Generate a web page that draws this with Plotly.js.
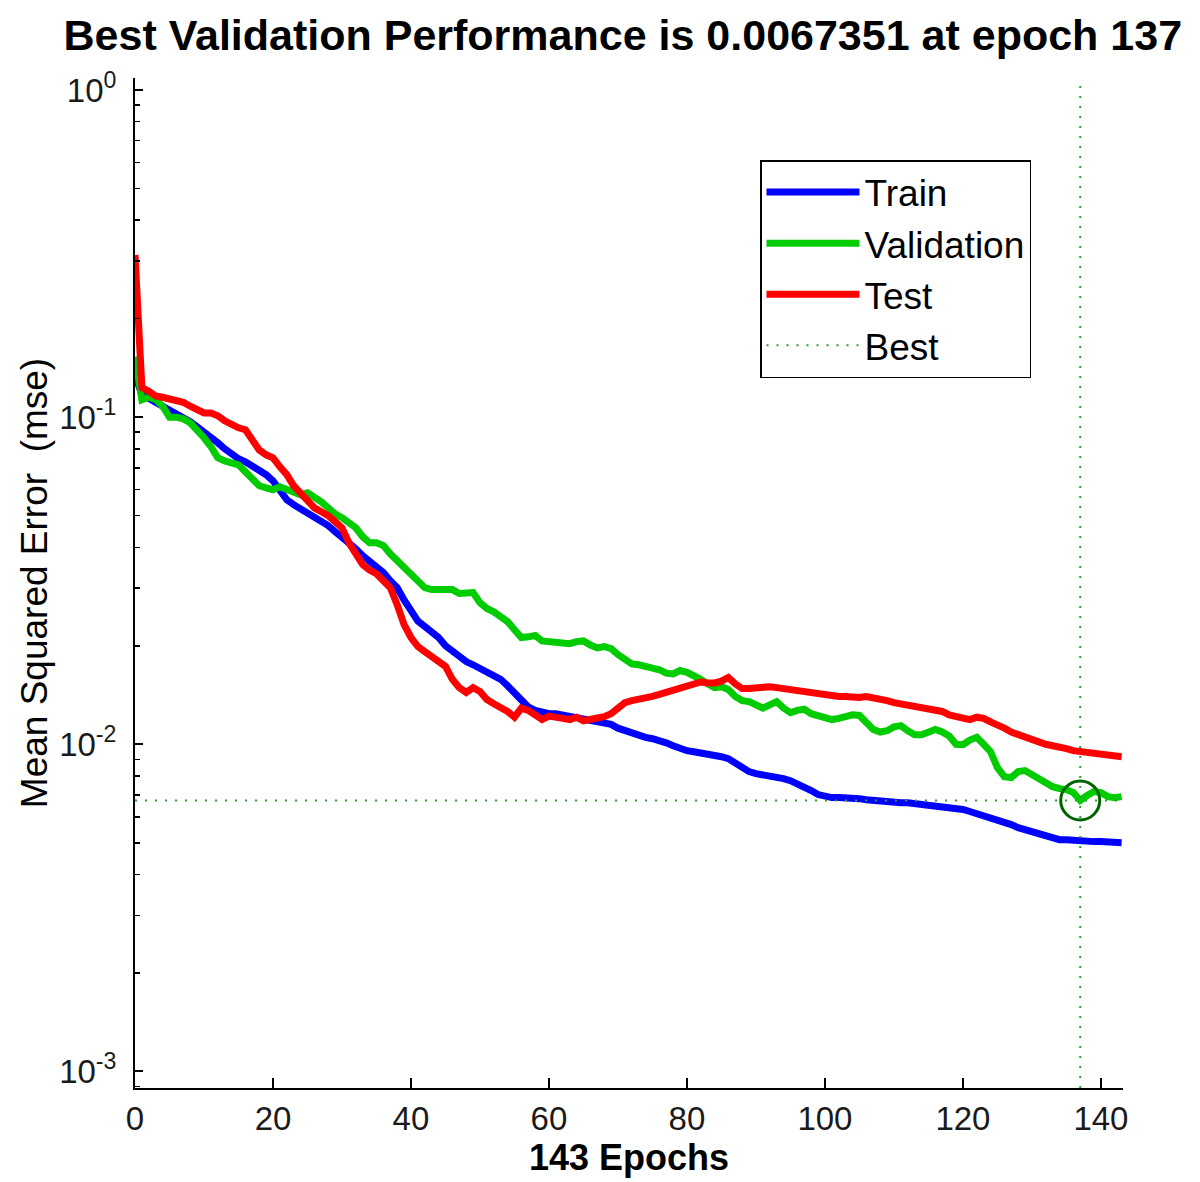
<!DOCTYPE html>
<html>
<head>
<meta charset="utf-8">
<script src="https://cdn.plot.ly/plotly-3.0.1.min.js"></script>
<style>
  html, body { margin: 0; padding: 0; background: #ffffff; }
  #chart { width: 1200px; height: 1182px; }
</style>
</head>
<body>
<div id="chart"></div>
<script>
// ---- Data ----
const train = [0.135,0.117,0.114,0.111,0.109,0.105,0.102,0.100,0.0968,0.0934,
0.0902,0.0871,0.0835,0.0800,0.0767,0.0746,0.0730,0.0710,0.0690,0.0667,
0.0639,0.0591,0.0559,0.0540,0.0525,0.0514,0.0500,0.0482,0.0466,0.0447,
0.0431,0.0416,0.0396,0.0377,0.0362,0.0349,0.0335,0.0316,0.0301,0.0276,
0.0254,0.0238,0.0229,0.0221,0.0212,0.0200,0.0192,0.0184,0.0179,0.0175,
0.0171,0.0166,0.0162,0.0158,0.0151,0.0143,0.0136,0.0130,0.0127,0.0125,
0.0124,0.0124,0.0123,0.0122,0.0120,0.0119,0.0118,0.0117,0.01165,0.0115,
0.0112,0.0110,0.0108,0.0106,0.0105,0.0104,0.0103,0.0101,0.00990,0.00970,
0.00956,0.00949,0.00943,0.00936,0.00923,0.00916,0.00904,0.00873,0.00842,0.00825,
0.00813,0.00808,0.00802,0.00796,0.00785,0.00774,0.00758,0.00742,0.00722,0.00702,
0.00692,0.00687,0.00687,0.00687,0.00682,0.00682,0.00677,0.00673,0.00673,0.00668,
0.00668,0.00663,0.00663,0.00659,0.00659,0.00654,0.00654,0.00650,0.00645,0.00636,
0.00632,0.00623,0.00614,0.00606,0.00597,0.00585,0.00577,0.00568,0.00556,0.00548,
0.00537,0.00529,0.00522,0.00515,0.00511,0.00511,0.00508,0.00508,0.00508,0.00504,
0.00504,0.00504,0.00500,0.00500];

const validation = [0.153,0.113,0.115,0.113,0.108,0.100,0.100,0.0988,0.0961,0.0915,
0.0865,0.0812,0.0751,0.0735,0.0725,0.0715,0.0681,0.0643,0.0617,0.0608,
0.0600,0.0613,0.0600,0.0587,0.0579,0.0587,0.0571,0.0551,0.0528,0.0506,
0.0493,0.0479,0.0459,0.0431,0.0413,0.0413,0.0405,0.0382,0.0364,0.0349,
0.0330,0.0314,0.0301,0.0297,0.0297,0.0295,0.0297,0.0289,0.0289,0.0291,
0.0271,0.0260,0.0254,0.0247,0.0237,0.0224,0.0212,0.0213,0.0215,0.0207,
0.0206,0.0207,0.0204,0.0203,0.0206,0.0207,0.0201,0.0197,0.0199,0.0196,
0.0188,0.0181,0.0176,0.0175,0.0174,0.0171,0.0169,0.0165,0.0164,0.0168,
0.0166,0.0163,0.0158,0.0153,0.0149,0.0150,0.0147,0.0140,0.0136,0.0135,
0.0132,0.0129,0.0132,0.0135,0.0129,0.0125,0.0127,0.0128,0.0124,0.0122,
0.0120,0.0119,0.0120,0.0122,0.0123,0.01225,0.0116,0.0111,0.0109,0.0110,
0.0113,0.0114,0.0110,0.0107,0.0107,0.0109,0.0111,0.0109,0.0106,0.0100,
0.00997,0.0103,0.0105,0.0100,0.00949,0.00848,0.00796,0.00791,0.00825,0.00831,
0.00808,0.00785,0.00764,0.00742,0.00732,0.00727,0.00712,0.0067351,0.00697,0.00717,
0.00712,0.00692,0.00687,0.00692];

const test = [0.313,0.123,0.120,0.116,0.115,0.114,0.112,0.111,0.108,0.105,
0.103,0.103,0.101,0.0974,0.0947,0.0928,0.0915,0.0852,0.0794,0.0767,
0.0751,0.0705,0.0667,0.0617,0.0583,0.0555,0.0528,0.0514,0.0500,0.0479,
0.0459,0.0413,0.0379,0.0354,0.0341,0.0332,0.0316,0.0301,0.0267,0.0232,
0.0212,0.0199,0.0192,0.0186,0.0180,0.0173,0.0158,0.0149,0.0144,0.0149,
0.0145,0.0137,0.0133,0.0130,0.0126,0.0121,0.0129,0.0127,0.0122,0.0119,
0.0122,0.01215,0.0120,0.0119,0.0121,0.0118,0.0119,0.0121,0.01215,0.0124,
0.0129,0.0134,0.0136,0.0137,0.0138,0.0140,0.0142,0.0144,0.0146,0.0148,
0.0150,0.0153,0.0155,0.0154,0.0154,0.0156,0.0160,0.0153,0.0148,0.0148,
0.0149,0.0149,0.0150,0.0149,0.0148,0.0147,0.0146,0.0144,0.0143,0.0142,
0.0141,0.0141,0.0140,0.0140,0.0139,0.0139,0.0140,0.0139,0.0138,0.0136,
0.0134,0.0133,0.0132,0.0130,0.0129,0.0128,0.0128,0.0126,0.0123,0.0122,
0.0120,0.0119,0.0121,0.0120,0.0117,0.0115,0.0112,0.0109,0.0107,0.01055,
0.0103,0.0102,0.0100,0.00990,0.00983,0.00970,0.00956,0.00949,0.00943,0.00936,
0.00929,0.00923,0.00916,0.00916];

const epochs = Array.from({length: train.length}, (_, i) => i);
const bestEpoch = 137;
const bestPerf = 0.0067351;
const xTickVals = [0, 20, 40, 60, 80, 100, 120, 140];
const yTickVals = [0.001, 0.01, 0.1, 1];
const yTickText = ['10<sup>-3</sup>', '10<sup>-2</sup>', '10<sup>-1</sup>', '10<sup>0</sup>'];
const seriesNames = ['Train', 'Validation', 'Test', 'Best'];

// ---- Styles ----
const FONT = 'Liberation Sans, Arial, Helvetica, sans-serif';
const BLUE = '#0000ff', GREEN = '#00cc00', RED = '#ff0000', BESTGREEN = '#2e9e2e', CIRCLE = '#006400';
const LW = 7;

const minorVals = [];
for (let e = -4; e <= 0; e++) for (let k = 2; k <= 9; k++) minorVals.push(k * Math.pow(10, e));

const traces = [
  {x: epochs, y: train, name: seriesNames[0], mode: 'lines', line: {color: BLUE, width: LW}, legendgroup: 'a'},
  {x: epochs, y: validation, name: seriesNames[1], mode: 'lines', line: {color: GREEN, width: LW}, legendgroup: 'b'},
  {x: epochs, y: test, name: seriesNames[2], mode: 'lines', line: {color: RED, width: LW}, legendgroup: 'c'},
  {x: [epochs[0], epochs[epochs.length - 1]], y: [bestPerf, bestPerf], name: seriesNames[3], mode: 'lines',
   line: {color: BESTGREEN, width: 2, dash: '2px,8px'}, legendgroup: 'd'},
  {x: [bestEpoch], y: [bestPerf], mode: 'markers', showlegend: false,
   marker: {symbol: 'circle-open', size: 39, color: CIRCLE, line: {color: CIRCLE, width: 3}}}
];

const layout = {
  width: 1200, height: 1182,
  margin: {l: 135, r: 77, t: 78, b: 94, pad: 0},
  paper_bgcolor: '#ffffff', plot_bgcolor: '#ffffff',
  font: {family: FONT, color: '#000000'},
  title: {
    text: '<b>Best Validation Performance is 0.0067351 at epoch 137</b>',
    font: {family: FONT, size: 43, color: '#000000'},
    x: 0.519, xanchor: 'center', xref: 'container',
    y: 0.9704, yanchor: 'middle', yref: 'container'
  },
  xaxis: {
    range: [0, 143.2], tickmode: 'array', tickvals: xTickVals,
    ticks: 'inside', ticklen: 10, tickwidth: 2, tickcolor: '#000000',
    showline: true, linecolor: '#000000', linewidth: 2, mirror: false,
    showgrid: false, zeroline: false,
    tickfont: {family: FONT, size: 33, color: '#1a1a1a'},
    title: {text: '<b>143 Epochs</b>', font: {family: FONT, size: 36, color: '#000000'}, standoff: 8}
  },
  yaxis: {
    type: 'log', range: [-3.0507, 0.0367], tickmode: 'array', tickvals: yTickVals, ticktext: yTickText,
    ticks: 'inside', ticklen: 8, tickwidth: 2, tickcolor: '#000000', ticklabelstandoff: 10,
    minor: {ticks: 'inside', ticklen: 5, tickwidth: 1.5, tickcolor: '#000000', tickmode: 'array', tickvals: minorVals, showgrid: false},
    showline: true, linecolor: '#000000', linewidth: 2, mirror: false,
    showgrid: false, zeroline: false,
    tickfont: {family: FONT, size: 33, color: '#1a1a1a'},
    title: {text: 'Mean Squared Error\u00a0 (mse)', font: {family: FONT, size: 37, color: '#000000'}, standoff: 0}
  },
  showlegend: true,
  legend: {
    x: 0.6326, y: 0.9188, xanchor: 'left', yanchor: 'top', xref: 'paper', yref: 'paper',
    bgcolor: '#ffffff', bordercolor: '#000000', borderwidth: 1.5,
    font: {family: FONT, size: 37, color: '#000000'},
    traceorder: 'grouped', tracegroupgap: 0, itemwidth: 93
  },
  shapes: [
    {type: 'line', xref: 'x', yref: 'paper', x0: bestEpoch, x1: bestEpoch, y0: 0, y1: 1,
     line: {color: BESTGREEN, width: 2, dash: '2px,8px'}, layer: 'above'}
  ]
};

Plotly.newPlot('chart', traces, layout, {displayModeBar: false, staticPlot: true});
</script>
</body>
</html>
